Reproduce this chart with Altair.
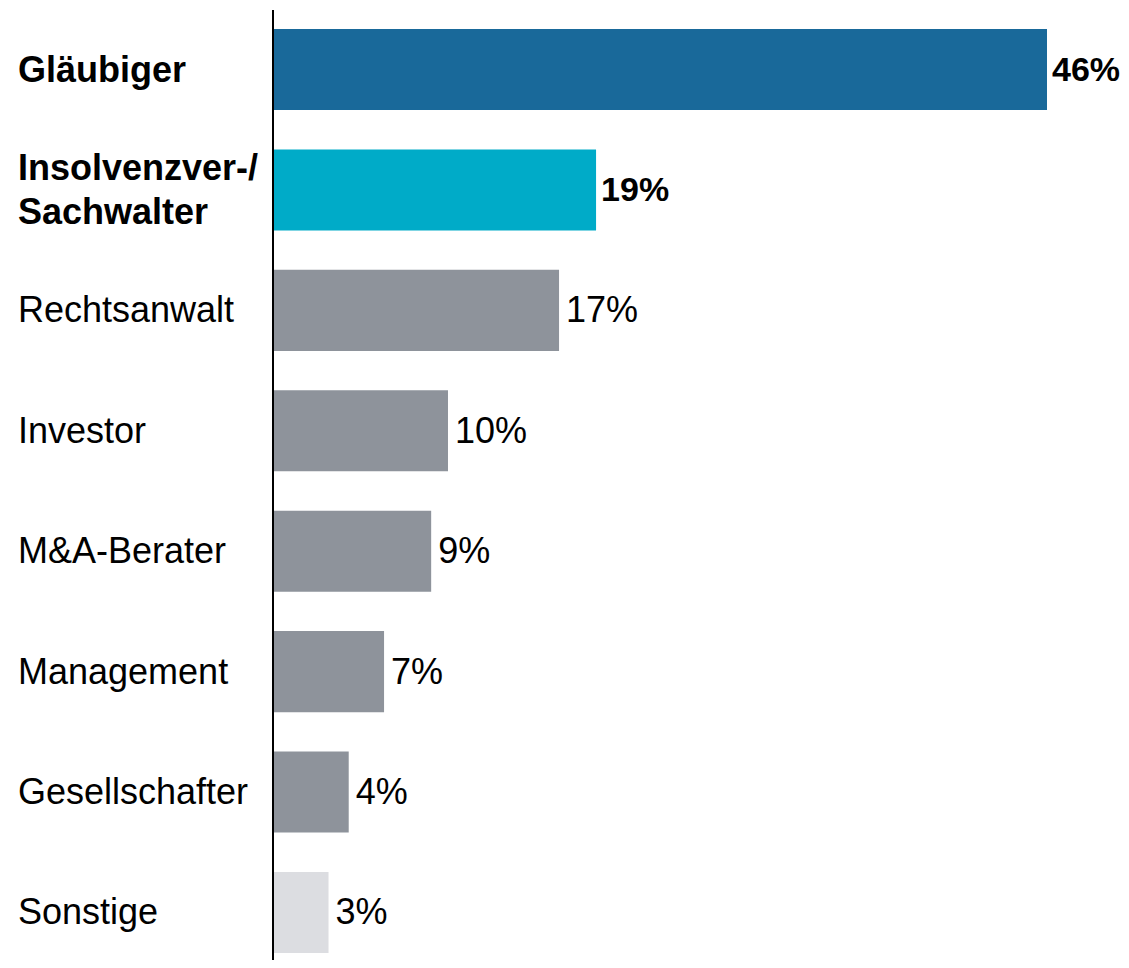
import altair as alt
import pandas as pd

categories = ["Gläubiger", "Insolvenzver-/\nSachwalter", "Rechtsanwalt", "Investor",
              "M&A-Berater", "Management", "Gesellschafter", "Sonstige"]
values = [46.0, 19.2, 17.0, 10.4, 9.4, 6.6, 4.5, 3.3]
value_labels = ["46%", "19%", "17%", "10%", "9%", "7%", "4%", "3%"]
emphasis = [True, True, False, False, False, False, False, False]

bar_colors = ["#19699a", "#00abc8", "#8e939b", "#8e939b", "#8e939b", "#8e939b", "#8e939b", "#dcdde1"]

df = pd.DataFrame({
    "cat": categories,
    "value": values,
    "vlabel": value_labels,
    "bold": emphasis,
})
df["multi"] = df["cat"].str.contains("\n")

FONT = "Liberation Sans, Arial, Helvetica, sans-serif"
FS = 36

y_enc = alt.Y("cat:N", sort=categories, axis=None,
              scale=alt.Scale(paddingInner=0.327, paddingOuter=0.058))
x_enc = alt.X("value:Q", axis=None, scale=alt.Scale(domain=[0, 46], nice=False))

base = alt.Chart(df)

bars = base.mark_bar().encode(
    y=y_enc, x=x_enc,
    color=alt.Color("cat:N", scale=alt.Scale(domain=categories, range=bar_colors), legend=None),
)

def text_layers(bold):
    w = "bold" if bold else "normal"
    flt = alt.datum.bold if bold else ~alt.datum.bold
    single = base.transform_filter(flt).transform_filter(~alt.datum.multi).mark_text(
        align="left", baseline="middle", font=FONT, fontSize=FS, fontWeight=w,
        color="#000000", dy=1,
    ).encode(y=y_enc, x=alt.value(-255), text="cat:N")
    multi = base.transform_filter(flt).transform_filter(alt.datum.multi).mark_text(
        align="left", baseline="middle", font=FONT, fontSize=FS, fontWeight=w,
        color="#000000", lineBreak="\n", lineHeight=44, dy=-21,
    ).encode(y=y_enc, x=alt.value(-255), text="cat:N")
    val_txt = base.transform_filter(flt).mark_text(
        align="left", baseline="middle", font=FONT,
        fontSize=34 if bold else FS, fontWeight=w,
        color="#000000", dx=5 if bold else 7, dy=1,
    ).encode(y=y_enc, x=x_enc, text="vlabel:N")
    return [single, multi, val_txt]

axis_line = base.mark_rule(color="#000000", strokeWidth=1.5).encode(
    x=alt.value(0), y=alt.value(-12), y2=alt.value(946)
)

chart = alt.layer(bars, *text_layers(True), *text_layers(False), axis_line).properties(
    width=774, height=938,
    autosize=alt.AutoSizeParams(type="none"),
    padding={"left": 265, "top": 14, "right": 74, "bottom": 0},
).configure_view(stroke=None)

chart.save("out.html", embed_options={"renderer": "svg", "actions": False})
